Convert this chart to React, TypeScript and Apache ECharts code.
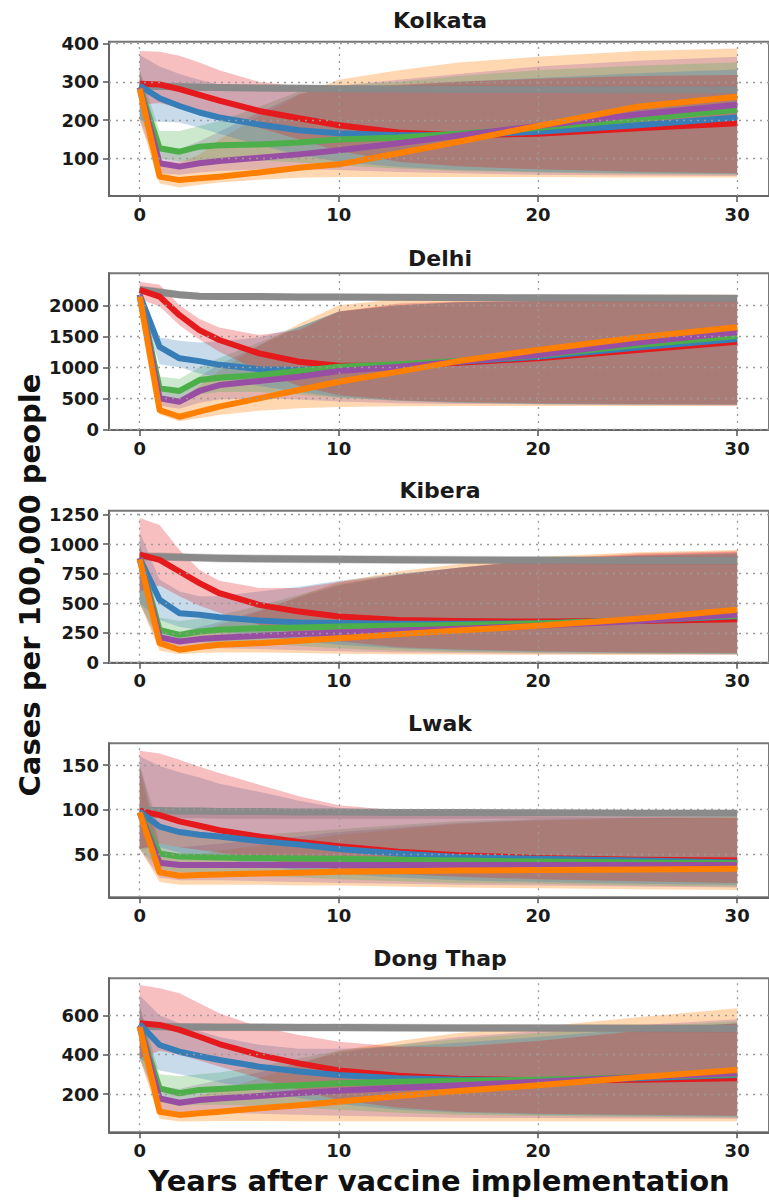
import React, { useEffect, useRef } from "react";
import * as echarts from "echarts";

// ---------- shared ----------
const YEARS = [0, 1, 2, 3, 4, 6, 8, 10, 13, 16, 20, 25, 30];
const X_TICKS = [0, 10, 20, 30];
const X_TITLE = "Years after vaccine implementation";
const Y_TITLE = "Cases per 100,000 people";

// ---------- Kolkata ----------
const KOL_TICKS = [100, 200, 300, 400];
const KOL_GRAY = [290, 288, 287, 286, 285, 284, 283, 282, 281, 280, 280, 279, 279];
const KOL_RED = [295, 293, 281, 266, 251, 224, 205, 187, 168, 161, 165, 179, 192];
const KOL_BLUE = [290, 257, 237, 220, 207, 189, 174, 166, 161, 161, 170, 187, 207];
const KOL_GREEN = [285, 127, 118, 131, 135, 137, 142, 150, 155, 165, 180, 203, 227];
const KOL_PURPLE = [285, 88, 79, 88, 94, 102, 111, 122, 140, 160, 185, 215, 240];
const KOL_ORANGE = [282, 53, 44, 49, 53, 64, 76, 85, 114, 144, 185, 235, 261];
const KOL_GRAY_LO = [280, 279, 278, 277, 276, 275, 274, 273, 272, 271, 271, 270, 270];
const KOL_GRAY_HI = [300, 298, 296, 295, 294, 293, 292, 292, 291, 291, 290, 290, 290];
const KOL_RED_LO = [240, 245, 232, 222, 210, 180, 150, 120, 92, 80, 72, 66, 62];
const KOL_RED_HI = [380, 378, 368, 350, 330, 300, 288, 284, 292, 300, 308, 315, 318];
const KOL_BLUE_LO = [200, 196, 194, 180, 165, 135, 110, 92, 78, 70, 65, 62, 60];
const KOL_BLUE_HI = [370, 340, 320, 305, 292, 282, 280, 282, 290, 300, 310, 322, 332];
const KOL_GREEN_LO = [210, 100, 92, 96, 98, 95, 90, 82, 74, 68, 64, 60, 58];
const KOL_GREEN_HI = [330, 172, 172, 185, 198, 235, 275, 290, 300, 315, 330, 342, 350];
const KOL_PURPLE_LO = [200, 62, 58, 64, 68, 72, 72, 70, 65, 62, 58, 56, 55];
const KOL_PURPLE_HI = [330, 130, 125, 145, 170, 220, 268, 290, 305, 320, 340, 355, 365];
const KOL_ORANGE_LO = [200, 35, 25, 32, 38, 45, 50, 52, 52, 52, 52, 51, 51];
const KOL_ORANGE_HI = [320, 95, 90, 110, 150, 210, 265, 305, 330, 350, 365, 380, 387];

// ---------- Delhi ----------
const DEL_TICKS = [0, 500, 1000, 1500, 2000];
const DEL_GRAY = [2250, 2210, 2170, 2145, 2140, 2140, 2135, 2135, 2130, 2125, 2120, 2118, 2115];
const DEL_RED = [2250, 2140, 1840, 1600, 1440, 1225, 1090, 1025, 1030, 1075, 1145, 1280, 1410];
const DEL_BLUE = [2170, 1330, 1145, 1100, 1040, 970, 956, 990, 1040, 1090, 1170, 1320, 1456];
const DEL_GREEN = [2170, 660, 618, 795, 832, 876, 940, 1010, 1050, 1100, 1190, 1360, 1505];
const DEL_PURPLE = [2170, 500, 445, 618, 714, 779, 848, 940, 1010, 1090, 1200, 1400, 1565];
const DEL_ORANGE = [2140, 311, 203, 284, 365, 500, 634, 768, 930, 1100, 1280, 1480, 1645];
const DEL_GRAY_LO = [2180, 2150, 2110, 2090, 2085, 2080, 2075, 2075, 2070, 2065, 2060, 2058, 2055];
const DEL_GRAY_HI = [2320, 2280, 2230, 2200, 2195, 2190, 2185, 2185, 2180, 2175, 2170, 2168, 2165];
const DEL_RED_LO = [2100, 1980, 1680, 1450, 1250, 950, 700, 550, 470, 440, 420, 410, 400];
const DEL_RED_HI = [2380, 2330, 2000, 1780, 1640, 1520, 1600, 1900, 2030, 2060, 2070, 2080, 2080];
const DEL_BLUE_LO = [2000, 1050, 1000, 900, 830, 700, 600, 520, 460, 430, 410, 400, 395];
const DEL_BLUE_HI = [2300, 1480, 1430, 1400, 1420, 1480, 1650, 1900, 2000, 2050, 2070, 2075, 2075];
const DEL_GREEN_LO = [1900, 500, 480, 560, 600, 600, 560, 510, 460, 430, 410, 400, 395];
const DEL_GREEN_HI = [2200, 850, 810, 1000, 1150, 1400, 1650, 1900, 2000, 2050, 2070, 2075, 2075];
const DEL_PURPLE_LO = [1900, 380, 330, 430, 480, 500, 480, 450, 420, 410, 400, 390, 385];
const DEL_PURPLE_HI = [2200, 620, 600, 850, 1050, 1350, 1650, 1900, 2000, 2050, 2070, 2080, 2080];
const DEL_ORANGE_LO = [1900, 240, 130, 180, 230, 300, 340, 360, 370, 375, 375, 375, 375];
const DEL_ORANGE_HI = [2150, 500, 480, 700, 950, 1350, 1700, 2000, 2100, 2150, 2170, 2170, 2170];

// ---------- Kibera ----------
const KIB_TICKS = [0, 250, 500, 750, 1000, 1250];
const KIB_GRAY = [895, 893, 889, 885, 880, 876, 873, 871, 868, 865, 863, 862, 860];
const KIB_RED = [910, 866, 768, 670, 585, 487, 430, 388, 360, 350, 346, 350, 366];
const KIB_BLUE = [880, 530, 417, 403, 383, 355, 338, 333, 328, 328, 330, 355, 390];
const KIB_GREEN = [880, 276, 234, 262, 276, 290, 295, 304, 310, 318, 330, 360, 395];
const KIB_PURPLE = [880, 215, 178, 198, 210, 226, 240, 254, 270, 285, 310, 350, 405];
const KIB_ORANGE = [870, 164, 108, 131, 150, 164, 185, 206, 240, 270, 310, 370, 445];
const KIB_GRAY_LO = [860, 858, 854, 850, 845, 841, 838, 836, 833, 830, 828, 827, 825];
const KIB_GRAY_HI = [930, 928, 924, 920, 915, 911, 908, 906, 903, 900, 898, 897, 895];
const KIB_RED_LO = [600, 650, 560, 480, 420, 320, 240, 180, 130, 110, 95, 85, 80];
const KIB_RED_HI = [1220, 1160, 950, 780, 690, 630, 630, 680, 740, 800, 870, 920, 940];
const KIB_BLUE_LO = [500, 360, 300, 280, 260, 220, 180, 150, 120, 100, 90, 80, 75];
const KIB_BLUE_HI = [1100, 700, 600, 560, 560, 600, 640, 690, 750, 800, 860, 900, 920];
const KIB_GREEN_LO = [500, 190, 160, 170, 170, 160, 140, 120, 100, 90, 80, 75, 70];
const KIB_GREEN_HI = [1000, 380, 350, 370, 400, 480, 570, 660, 740, 800, 860, 900, 920];
const KIB_PURPLE_LO = [500, 140, 110, 120, 120, 115, 105, 95, 85, 80, 75, 70, 68];
const KIB_PURPLE_HI = [1000, 280, 260, 300, 340, 440, 550, 650, 740, 800, 860, 910, 930];
const KIB_ORANGE_LO = [500, 100, 70, 80, 85, 85, 80, 75, 70, 68, 66, 65, 65];
const KIB_ORANGE_HI = [950, 230, 200, 260, 320, 430, 560, 680, 770, 830, 890, 930, 950];

// ---------- Lwak ----------
const LWA_TICKS = [50, 100, 150];
const LWA_GRAY = [99, 99, 98.5, 98.5, 98, 98, 97.5, 97.5, 97, 97, 96.5, 96, 96];
const LWA_RED = [99, 94, 87, 82, 77, 70, 64, 59, 53, 49, 46, 44, 43];
const LWA_BLUE = [98, 81, 75, 72, 70, 65, 61, 56, 51, 47, 45, 43, 41];
const LWA_GREEN = [97, 51, 47.5, 47, 46.5, 46, 45.5, 45, 44, 43, 42, 41, 40];
const LWA_PURPLE = [97, 40.5, 38, 38, 38, 38, 38, 38, 38, 38, 38, 38, 38];
const LWA_ORANGE = [97, 30, 26, 27, 27.5, 28.5, 29.5, 30.5, 31, 32, 32.5, 33, 34];
const LWA_GRAY_LO = [91, 91, 90.5, 90.5, 90, 90, 90, 90, 90, 90, 90, 90, 90];
const LWA_GRAY_HI = [102, 102, 101.5, 101.5, 101, 101, 100.5, 100.5, 100, 100, 100, 100, 100];
const LWA_RED_LO = [56, 62, 58, 55, 52, 45, 38, 33, 28, 25, 22, 20, 18];
const LWA_RED_HI = [166, 163, 156, 148, 141, 128, 115, 105, 99, 96, 93, 92, 91];
const LWA_BLUE_LO = [56, 58, 52, 48, 45, 38, 32, 28, 24, 21, 19, 17, 16];
const LWA_BLUE_HI = [160, 149, 142, 136, 129, 120, 110, 102, 97, 94, 92, 91, 90];
const LWA_GREEN_LO = [56, 34, 30, 29, 28, 26, 24, 22, 20, 18, 17, 15, 14];
const LWA_GREEN_HI = [150, 78, 72, 70, 70, 72, 75, 78, 83, 87, 90, 91, 92];
const LWA_PURPLE_LO = [56, 24, 21, 21, 21, 20, 19, 18, 17, 16, 15, 14, 13];
const LWA_PURPLE_HI = [150, 62, 58, 60, 62, 66, 70, 75, 80, 85, 89, 91, 92];
const LWA_ORANGE_LO = [56, 19, 16, 16, 16, 16, 15, 15, 14, 13, 12, 11, 10];
const LWA_ORANGE_HI = [145, 50, 47, 50, 54, 60, 66, 72, 78, 84, 88, 90, 91];

// ---------- Dong Thap ----------
const DON_TICKS = [200, 400, 600];
const DON_GRAY = [545, 543, 541, 540, 539, 539, 538, 538, 537, 536, 535, 534, 533];
const DON_RED = [560, 551, 526, 491, 454, 398, 356, 320, 293, 278, 270, 272, 280];
const DON_BLUE = [555, 449, 415, 393, 373, 339, 314, 297, 280, 272, 270, 280, 297];
const DON_GREEN = [545, 229, 204, 221, 225, 237, 245, 255, 262, 268, 272, 285, 300];
const DON_PURPLE = [545, 178, 156, 170, 177, 190, 205, 217, 232, 245, 262, 285, 305];
const DON_ORANGE = [540, 110, 94, 102, 110, 128, 143, 161, 190, 215, 245, 285, 322];
const DON_GRAY_LO = [525, 523, 521, 520, 519, 519, 518, 518, 517, 516, 515, 514, 513];
const DON_GRAY_HI = [565, 563, 561, 560, 559, 559, 558, 558, 557, 556, 555, 554, 553];
const DON_RED_LO = [380, 420, 400, 370, 340, 280, 220, 170, 130, 110, 100, 95, 90];
const DON_RED_HI = [754, 737, 712, 661, 610, 542, 500, 466, 440, 440, 470, 520, 560];
const DON_BLUE_LO = [380, 320, 300, 280, 260, 220, 180, 150, 120, 105, 95, 90, 85];
const DON_BLUE_HI = [700, 600, 560, 520, 490, 450, 430, 430, 440, 460, 490, 530, 560];
const DON_GREEN_LO = [380, 160, 140, 145, 145, 140, 130, 120, 105, 95, 88, 83, 80];
const DON_GREEN_HI = [650, 300, 290, 300, 310, 340, 380, 420, 450, 480, 510, 540, 570];
const DON_PURPLE_LO = [380, 120, 100, 105, 105, 100, 95, 90, 85, 80, 78, 76, 75];
const DON_PURPLE_HI = [650, 240, 225, 250, 270, 310, 360, 410, 450, 490, 520, 550, 580];
const DON_ORANGE_LO = [380, 75, 60, 62, 63, 63, 62, 62, 62, 62, 62, 62, 62];
const DON_ORANGE_HI = [600, 170, 155, 190, 220, 280, 350, 420, 470, 510, 540, 590, 636];

// ---------- assembly ----------
type Key = "gray" | "red" | "blue" | "green" | "purple" | "orange";
const LINE_ORDER: Key[] = ["gray", "red", "blue", "green", "purple", "orange"];
const BAND_ORDER: Key[] = ["gray", "orange", "purple", "green", "blue", "red"];
const LINE_COLOR: Record<Key, string> = {
  gray: "#8a8a8a",
  red: "#e41a1c",
  blue: "#377eb8",
  green: "#4daf4a",
  purple: "#984ea3",
  orange: "#ff7f00",
};
const BAND_COLOR: Record<Key, string> = {
  gray: "rgba(138,138,138,0.35)",
  red: "rgba(228,26,28,0.28)",
  blue: "rgba(55,126,184,0.28)",
  green: "rgba(77,175,74,0.28)",
  purple: "rgba(152,78,163,0.28)",
  orange: "rgba(255,127,0,0.3)",
};

const PANELS = [
  {
    name: "Kolkata", ticks: KOL_TICKS,
    mean: { gray: KOL_GRAY, red: KOL_RED, blue: KOL_BLUE, green: KOL_GREEN, purple: KOL_PURPLE, orange: KOL_ORANGE },
    lo: { gray: KOL_GRAY_LO, red: KOL_RED_LO, blue: KOL_BLUE_LO, green: KOL_GREEN_LO, purple: KOL_PURPLE_LO, orange: KOL_ORANGE_LO },
    hi: { gray: KOL_GRAY_HI, red: KOL_RED_HI, blue: KOL_BLUE_HI, green: KOL_GREEN_HI, purple: KOL_PURPLE_HI, orange: KOL_ORANGE_HI },
  },
  {
    name: "Delhi", ticks: DEL_TICKS,
    mean: { gray: DEL_GRAY, red: DEL_RED, blue: DEL_BLUE, green: DEL_GREEN, purple: DEL_PURPLE, orange: DEL_ORANGE },
    lo: { gray: DEL_GRAY_LO, red: DEL_RED_LO, blue: DEL_BLUE_LO, green: DEL_GREEN_LO, purple: DEL_PURPLE_LO, orange: DEL_ORANGE_LO },
    hi: { gray: DEL_GRAY_HI, red: DEL_RED_HI, blue: DEL_BLUE_HI, green: DEL_GREEN_HI, purple: DEL_PURPLE_HI, orange: DEL_ORANGE_HI },
  },
  {
    name: "Kibera", ticks: KIB_TICKS,
    mean: { gray: KIB_GRAY, red: KIB_RED, blue: KIB_BLUE, green: KIB_GREEN, purple: KIB_PURPLE, orange: KIB_ORANGE },
    lo: { gray: KIB_GRAY_LO, red: KIB_RED_LO, blue: KIB_BLUE_LO, green: KIB_GREEN_LO, purple: KIB_PURPLE_LO, orange: KIB_ORANGE_LO },
    hi: { gray: KIB_GRAY_HI, red: KIB_RED_HI, blue: KIB_BLUE_HI, green: KIB_GREEN_HI, purple: KIB_PURPLE_HI, orange: KIB_ORANGE_HI },
  },
  {
    name: "Lwak", ticks: LWA_TICKS,
    mean: { gray: LWA_GRAY, red: LWA_RED, blue: LWA_BLUE, green: LWA_GREEN, purple: LWA_PURPLE, orange: LWA_ORANGE },
    lo: { gray: LWA_GRAY_LO, red: LWA_RED_LO, blue: LWA_BLUE_LO, green: LWA_GREEN_LO, purple: LWA_PURPLE_LO, orange: LWA_ORANGE_LO },
    hi: { gray: LWA_GRAY_HI, red: LWA_RED_HI, blue: LWA_BLUE_HI, green: LWA_GREEN_HI, purple: LWA_PURPLE_HI, orange: LWA_ORANGE_HI },
  },
  {
    name: "Dong Thap", ticks: DON_TICKS,
    mean: { gray: DON_GRAY, red: DON_RED, blue: DON_BLUE, green: DON_GREEN, purple: DON_PURPLE, orange: DON_ORANGE },
    lo: { gray: DON_GRAY_LO, red: DON_RED_LO, blue: DON_BLUE_LO, green: DON_GREEN_LO, purple: DON_PURPLE_LO, orange: DON_ORANGE_LO },
    hi: { gray: DON_GRAY_HI, red: DON_RED_HI, blue: DON_BLUE_HI, green: DON_GREEN_HI, purple: DON_PURPLE_HI, orange: DON_ORANGE_HI },
  },
];

// layout (pixels) and axis extents for each panel
const LAYOUT = [
  { top: 41.7, height: 154.3, min: 2.6, max: 404.4, titleY: 20 },
  { top: 273.3, height: 156.7, min: -11, max: 2516, titleY: 258 },
  { top: 510.7, height: 152, min: -1, max: 1281, titleY: 490 },
  { top: 743.3, height: 154, min: 1.9, max: 174.4, titleY: 723 },
  { top: 978.3, height: 154, min: 5.6, max: 788, titleY: 958 },
];

const FONT = "'DejaVu Sans', sans-serif";
const PLOT_LEFT = 109;
const PLOT_WIDTH = 665;
const X_MIN = -1.54;
const X_MAX = X_MIN + PLOT_WIDTH / 20.067;
const plain = (v: number) => String(v);

function buildOption() {
  const grid: any[] = [];
  const xAxis: any[] = [];
  const yAxis: any[] = [];
  const series: any[] = [];
  const graphic: any[] = [];

  PANELS.forEach((p, i) => {
    const L = LAYOUT[i];
    grid.push({
      left: PLOT_LEFT, top: L.top, width: PLOT_WIDTH, height: L.height,
      show: true, borderColor: "#777", borderWidth: 2, backgroundColor: "transparent",
    });
    xAxis.push({
      type: "value", gridIndex: i, min: X_MIN, max: X_MAX,
      axisLine: { show: true, onZero: false, lineStyle: { color: "#666", width: 2 } },
      axisTick: { show: true, customValues: X_TICKS, length: 6, lineStyle: { color: "#555", width: 1.5 } },
      axisLabel: { customValues: X_TICKS, formatter: plain, fontFamily: FONT, fontSize: 18, fontWeight: "bold", color: "#1a1a1a", margin: 9 },
      splitLine: { show: false },
    });
    yAxis.push({
      type: "value", gridIndex: i, min: L.min, max: L.max,
      axisLine: { show: true, onZero: false, lineStyle: { color: "#666", width: 2 } },
      axisTick: { show: true, customValues: p.ticks, length: 6, lineStyle: { color: "#555", width: 1.5 } },
      axisLabel: { customValues: p.ticks, formatter: plain, fontFamily: FONT, fontSize: 18, fontWeight: "bold", color: "#1a1a1a", margin: 10 },
      splitLine: { show: false },
    });

    // dotted grid lines at tick positions
    series.push({
      type: "line", xAxisIndex: i, yAxisIndex: i, data: [], silent: true, z: 1,
      markLine: {
        silent: true, symbol: ["none", "none"], label: { show: false }, animation: false,
        lineStyle: { color: "#9a9a9a", type: [2, 5], width: 1.3 },
        emphasis: { disabled: true },
        data: [
          ...X_TICKS.map((v) => ({ xAxis: v })),
          ...p.ticks.map((v) => ({ yAxis: v })),
        ],
      },
    });

    // uncertainty bands
    BAND_ORDER.forEach((k) => {
      const lo = (p.lo as any)[k] as number[];
      const hi = (p.hi as any)[k] as number[];
      series.push({
        type: "custom", xAxisIndex: i, yAxisIndex: i, silent: true, z: 2,
        data: YEARS.map((x, j) => [x, lo[j], hi[j]]),
        encode: { x: 0, y: [1, 2] },
        renderItem: (params: any, api: any) => {
          if (params.dataIndex !== 0) return null;
          const upper = YEARS.map((x, j) => api.coord([x, hi[j]]));
          const lower = YEARS.map((x, j) => api.coord([x, lo[j]])).reverse();
          return {
            type: "polygon",
            shape: { points: upper.concat(lower) },
            style: { fill: BAND_COLOR[k], stroke: "none" },
          };
        },
      });
    });

    // median lines
    LINE_ORDER.forEach((k) => {
      const v = (p.mean as any)[k] as number[];
      series.push({
        type: "line", xAxisIndex: i, yAxisIndex: i, silent: true, z: 3,
        data: YEARS.map((x, j) => [x, v[j]]),
        showSymbol: false, symbol: "none",
        lineStyle: { color: LINE_COLOR[k], width: k === "gray" ? 7 : 6, join: "round", cap: "butt" },
      });
    });

    graphic.push({
      type: "text", x: 440, y: L.titleY, silent: true,
      style: {
        text: p.name, fontFamily: FONT, fontSize: 22, fontWeight: "bold", fill: "#1a1a1a",
        align: "center", verticalAlign: "middle", textAlign: "center", textVerticalAlign: "middle",
      },
    });
  });

  graphic.push({
    type: "text", x: 439, y: 1181, silent: true,
    style: {
      text: X_TITLE, fontFamily: FONT, fontSize: 29, fontWeight: "bold", fill: "#111",
      align: "center", verticalAlign: "middle", textAlign: "center", textVerticalAlign: "middle",
    },
  });
  graphic.push({
    type: "text", x: 30, y: 585, rotation: Math.PI / 2, silent: true,
    style: {
      text: Y_TITLE, fontFamily: FONT, fontSize: 29, fontWeight: "bold", fill: "#111",
      align: "center", verticalAlign: "middle", textAlign: "center", textVerticalAlign: "middle",
    },
  });

  return {
    animation: false,
    backgroundColor: "#ffffff",
    grid, xAxis, yAxis, series, graphic,
  };
}

export default function App() {
  const ref = useRef<HTMLDivElement>(null);
  useEffect(() => {
    if (!ref.current) return;
    const chart = echarts.init(ref.current, undefined, { renderer: "svg" });
    chart.setOption(buildOption() as any);
    return () => chart.dispose();
  }, []);
  return (
    <div
      ref={ref}
      style={{ position: "absolute", left: 0, top: 0, width: 769, height: 1200, background: "#fff" }}
    />
  );
}
